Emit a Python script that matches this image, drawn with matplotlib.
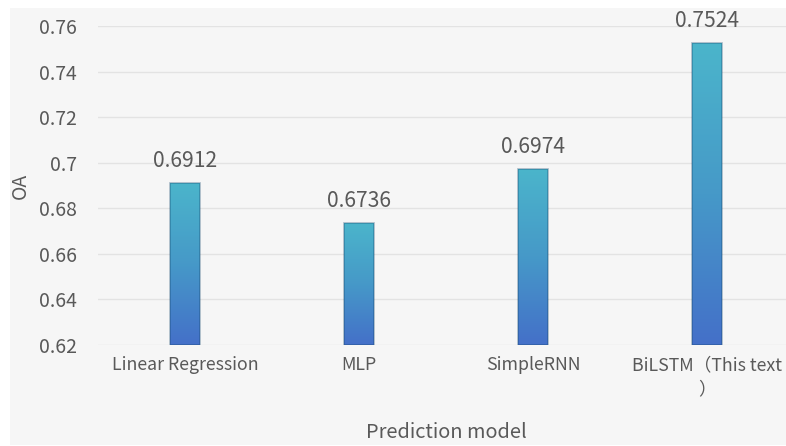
import numpy as np
import matplotlib.pyplot as plt
from matplotlib.colors import LinearSegmentedColormap
from matplotlib.patches import Rectangle

# model names and overall accuracy
models = ['Linear Regression', 'MLP', 'SimpleRNN', 'BiLSTM（This text\n）']
oa = [0.6912, 0.6736, 0.6974, 0.7524]
yticks = [0.62, 0.64, 0.66, 0.68, 0.70, 0.72, 0.74, 0.76]

plt.rcParams['font.family'] = ['Noto Sans CJK SC', 'DejaVu Sans']
text_col = '#595959'
bg = '#f6f6f6'

fig = plt.figure(figsize=(7.86, 4.46), dpi=100, facecolor='white')
# light panel behind the chart, leaving a thin white margin
fig.patches.append(Rectangle((10 / 786, 1 / 446), 776 / 786, 437 / 446,
                             transform=fig.transFigure, facecolor=bg,
                             edgecolor='none', zorder=-10))

# plot area runs slightly past the right edge
ax = fig.add_axes([98 / 786, (446 - 345) / 446, 696 / 786, 319 / 446])
ax.set_facecolor('none')
ax.set_yticks(yticks)
ax.set_yticklabels([f'{v:g}' for v in yticks])
ax.set_xticks(range(len(models)))
ax.set_xticklabels(models, linespacing=1.45)
ax.tick_params(axis='y', length=0, pad=15, labelsize=14, labelcolor=text_col)
ax.tick_params(axis='x', length=0, pad=8, labelsize=12.8, labelcolor=text_col)
for s in ax.spines.values():
    s.set_visible(False)
ax.grid(axis='y', color='#e3e3e3', linewidth=1)
ax.set_axisbelow(True)

# vertical gradient, blue at the base to teal at the top
cmap = LinearSegmentedColormap.from_list('bar', ['#4470c9', '#4699c8', '#4bb5cb'])
grad = np.linspace(0, 1, 256).reshape(-1, 1)
width = 0.172
bars = ax.bar(range(len(models)), [v - 0.62 for v in oa], bottom=0.62, width=width,
              facecolor='none', edgecolor=(0.05, 0.25, 0.4, 0.35), linewidth=1.2, zorder=3)
for rect, v in zip(bars, oa):
    x0 = rect.get_x()
    im = ax.imshow(grad, cmap=cmap, origin='lower', aspect='auto',
                   extent=[x0, x0 + rect.get_width(), 0.62, v], zorder=2)
    im.set_clip_path(rect)
    ax.annotate(f'{v:.4f}', (rect.get_x() + rect.get_width() / 2, v),
                xytext=(0, 8), textcoords='offset points', ha='center', va='bottom',
                fontsize=15.2, color=text_col)
ax.set_xlim(-0.5, 3.5)
ax.set_ylim(0.62, 0.76)

ax.set_ylabel('OA', fontsize=14, color=text_col)
ax.yaxis.set_label_coords(-0.112, 0.5)
ax.yaxis.label.set_va('center')
ax.set_xlabel('Prediction model', fontsize=14.4, color=text_col)
ax.xaxis.set_label_coords(0.5, -0.273)
ax.xaxis.label.set_va('center')

fig.savefig('out.png', dpi=100, facecolor='white')
